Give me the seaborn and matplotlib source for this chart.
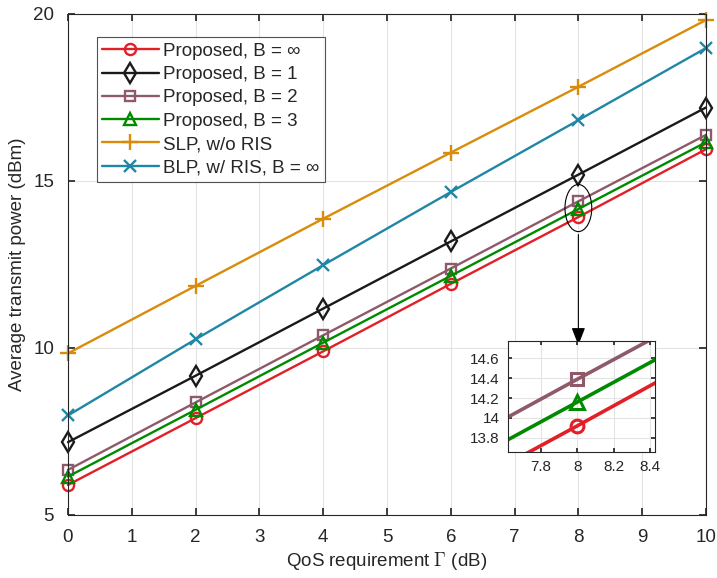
import matplotlib
matplotlib.use("Agg")
import matplotlib.pyplot as plt
import numpy as np
import pandas as pd
import seaborn as sns
from matplotlib.patches import Ellipse

# QoS requirement (dB)
gamma = [0, 2, 4, 6, 8, 10]

prop_inf = [5.90, 7.90, 9.90, 11.92, 13.92, 15.95]
prop_b1 = [7.18, 9.17, 11.18, 13.19, 15.19, 17.20]
prop_b2 = [6.35, 8.37, 10.38, 12.38, 14.39, 16.38]
prop_b3 = [6.15, 8.15, 10.16, 12.16, 14.16, 16.16]
slp = [9.84, 11.86, 13.87, 15.85, 17.82, 19.82]
blp = [7.98, 10.26, 12.48, 14.67, 16.82, 18.98]

labels = ["Proposed, B = \u221e", "Proposed, B = 1", "Proposed, B = 2",
          "Proposed, B = 3", "SLP, w/o RIS", "BLP, w/ RIS, B = \u221e"]
series = [prop_inf, prop_b1, prop_b2, prop_b3, slp, blp]
colors = ["#E21F26", "#1A1A1A", "#8E5A6A", "#008A00", "#D98B0A", "#1F87A5"]
markers = ["o", "d", "s", "^", "+", "x"]
msizes = [8, 10, 7, 8.5, 11, 8.5]

rows = []
for lab, vals in zip(labels, series):
    for g, v in zip(gamma, vals):
        rows.append({"QoS": g, "Power": v, "Scheme": lab})
df = pd.DataFrame(rows)

sns.set_theme(style="ticks")
plt.rcParams["font.family"] = ["Liberation Sans", "DejaVu Sans"]
plt.rcParams["mathtext.fontset"] = "cm"

fig = plt.figure(figsize=(7.17, 5.78), dpi=100)
ax = fig.add_axes([0.0948, 0.109, 0.8898, 0.8668])


def draw(axis, scale, lw, mew, clip):
    for lab, col, mk, ms in zip(labels, colors, markers, msizes):
        sub = df[df["Scheme"] == lab]
        sns.lineplot(data=sub, x="QoS", y="Power", ax=axis, color=col,
                     marker=mk, markersize=ms * scale, markerfacecolor="none",
                     markeredgecolor=col, markeredgewidth=mew,
                     linewidth=lw, label=lab, legend=False, clip_on=clip)


draw(ax, 1.0, 1.7, 1.7, False)

ax.set_xlim(0, 10)
ax.set_ylim(5, 20)
ax.set_xticks(range(0, 11))
ax.set_yticks([5, 10, 15, 20])
ax.grid(True, color="#e3e3e3", linewidth=0.8)
ax.tick_params(direction="in", top=True, right=True, labelsize=13.5,
               colors="#262626", length=5, pad=10)
for sp in ax.spines.values():
    sp.set_color("#262626")
    sp.set_linewidth(0.8)
ax.set_xlabel("QoS requirement $\\Gamma$ (dB)", fontsize=13.5,
              color="#262626", labelpad=3)
ax.set_ylabel("Average transmit power (dBm)", fontsize=13.5,
              color="#262626", labelpad=5)

leg = ax.legend(loc="upper left", bbox_to_anchor=(0.045, 0.954), fontsize=13.5,
                frameon=True, fancybox=False, handlelength=3.0,
                handletextpad=0.25, labelspacing=0.33, borderpad=0.3,
                borderaxespad=0)
leg.get_frame().set_edgecolor("#262626")
leg.get_frame().set_linewidth(0.8)

# zoom ellipse and arrow
ax.add_patch(Ellipse((8.0, 14.19), 0.42, 1.41, fill=False, edgecolor="black",
                     linewidth=0.8, zorder=5))
ax.annotate("", xy=(8.0, 10.0), xytext=(8.0, 13.48),
            arrowprops=dict(arrowstyle="-|>,head_width=0.35,head_length=0.9",
                            color="black", linewidth=0.8))

# inset
axi = fig.add_axes([0.7085, 0.218, 0.205, 0.192])
draw(axi, 1.15, 2.6, 2.2, True)
axi.set_xlim(7.62, 8.425)
axi.set_ylim(13.656, 14.775)
axi.set_xticks([7.8, 8, 8.2, 8.4])
axi.set_xticklabels(["7.8", "8", "8.2", "8.4"])
axi.set_yticks([13.8, 14.0, 14.2, 14.4, 14.6])
axi.set_yticklabels(["13.8", "14", "14.2", "14.4", "14.6"])
axi.grid(True, color="#e3e3e3", linewidth=0.8)
axi.tick_params(direction="in", top=True, right=True, labelsize=11,
                colors="#262626", length=3, pad=6)
axi.set_xlabel("")
axi.set_ylabel("")
for sp in axi.spines.values():
    sp.set_color("#262626")
    sp.set_linewidth(0.8)

fig.savefig("out.png", dpi=100)
